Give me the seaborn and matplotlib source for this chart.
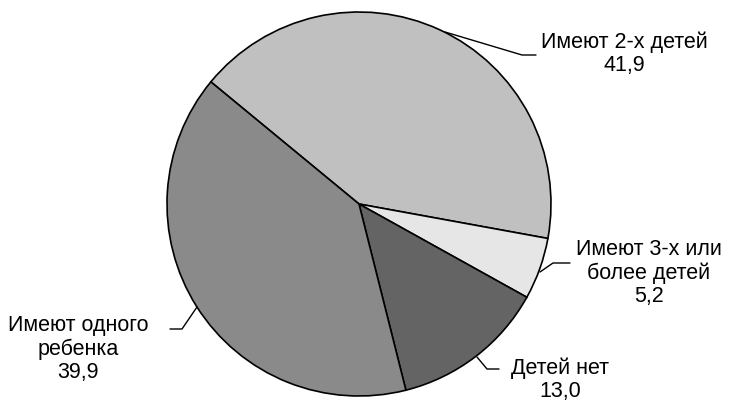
import matplotlib
matplotlib.use('Agg')
import matplotlib.pyplot as plt
import seaborn as sns

# Данные: доли семей по числу детей, %
labels = ['Имеют 2-х детей', 'Имеют 3-х или\nболее детей', 'Детей нет', 'Имеют одного\nребенка']
values = [41.9, 5.2, 13.0, 39.9]
colors = ['#c0c0c0', '#e6e6e6', '#646464', '#8a8a8a']

sns.set_theme(style='white')
plt.rcParams['font.family'] = ['Liberation Sans', 'DejaVu Sans']

W, H = 732, 403
fig = plt.figure(figsize=(W / 100, H / 100), dpi=100)
ax = fig.add_axes([0, 0, 1, 1])

wedges, _ = ax.pie(values, colors=colors, startangle=140.5, counterclock=False,
                   center=(359, -204), radius=192,
                   wedgeprops=dict(edgecolor='black', linewidth=1.2))
ax.set_xlim(0, W)
ax.set_ylim(-H, 0)
ax.set_aspect('equal')
ax.axis('off')

def fmt(v):
    return f'{v:.1f}'.replace('.', ',')

# подписи с выносками (положение в пикселях)
label_pos = [(624, -54), (649, -273), (560, -380), (78, -349)]
leaders = [
    [(445, -32), (522, -55), (536, -55)],
    [(540, -272), (553, -263), (570, -263)],
    [(477, -357), (487, -369), (499, -369)],
    [(197, -307), (182, -329), (170, -329)],
]
for lab, v, (x, y), pts in zip(labels, values, label_pos, leaders):
    ax.text(x, y, f'{lab}\n{fmt(v)}', ha='center', va='center', fontsize=15.5,
            linespacing=1.12, color='black')
    xs, ys = zip(*pts)
    ax.plot(xs, ys, color='black', lw=1)

fig.savefig('out.png', dpi=100)
